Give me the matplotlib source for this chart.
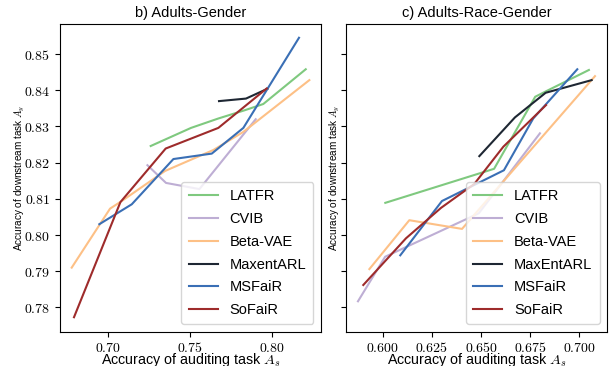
import matplotlib
matplotlib.use("Agg")
import matplotlib.pyplot as plt
from matplotlib.ticker import FuncFormatter

plt.rcParams['mathtext.fontset'] = 'cm'
plt.rcParams['font.family'] = ['Liberation Sans', 'DejaVu Sans']

# b) Adults-Gender
g_latfr_x = [0.7261, 0.7506, 0.7672, 0.7834, 0.7945, 0.8203]
g_latfr_y = [0.8246, 0.8296, 0.8322, 0.8345, 0.8362, 0.8458]
g_cvib_x = [0.7241, 0.7354, 0.7557, 0.7899]
g_cvib_y = [0.8193, 0.8144, 0.8127, 0.8320]
g_beta_x = [0.6781, 0.7014, 0.7085, 0.7348, 0.7642, 0.7824, 0.8225]
g_beta_y = [0.7910, 0.8073, 0.8094, 0.8177, 0.8235, 0.8285, 0.8428]
g_maxent_x = [0.7676, 0.7840, 0.7970]
g_maxent_y = [0.8370, 0.8377, 0.8404]
g_msfair_x = [0.6949, 0.7146, 0.7399, 0.7632, 0.7824, 0.8162]
g_msfair_y = [0.8030, 0.8085, 0.8210, 0.8225, 0.8296, 0.8545]
g_sofair_x = [0.6795, 0.7077, 0.7352, 0.7672, 0.7966]
g_sofair_y = [0.7773, 0.8091, 0.8239, 0.8296, 0.8405]

# c) Adults-Race-Gender
r_latfr_x = [0.6013, 0.6566, 0.6775, 0.6833, 0.7048]
r_latfr_y = [0.8089, 0.8183, 0.8382, 0.8398, 0.8456]
r_cvib_x = [0.5874, 0.6012, 0.6488, 0.6799]
r_cvib_y = [0.7817, 0.7940, 0.8060, 0.8281]
r_beta_x = [0.5932, 0.6135, 0.6403, 0.7079]
r_beta_y = [0.7906, 0.8041, 0.8017, 0.8439]
r_maxent_x = [0.6491, 0.6672, 0.6828, 0.7062]
r_maxent_y = [0.8218, 0.8325, 0.8393, 0.8428]
r_msfair_x = [0.6089, 0.6301, 0.6616, 0.6765, 0.6989]
r_msfair_y = [0.7944, 0.8094, 0.8179, 0.8322, 0.8458]
r_sofair_x = [0.5901, 0.6118, 0.6296, 0.6465, 0.6613, 0.6830]
r_sofair_y = [0.7862, 0.7991, 0.8075, 0.8141, 0.8244, 0.8359]

colors = ['#7fc97f', '#beaed4', '#fdc086', '#1e2733', '#3a6fb5', '#9e2b2b']

fig = plt.figure(figsize=(6.13, 3.66), dpi=100)
ax1 = fig.add_axes([0.0979, 0.0937, 0.4253, 0.8407])
ax2 = fig.add_axes([0.5644, 0.0937, 0.4258, 0.8407], sharey=ax1)

left = [(g_latfr_x, g_latfr_y, 'LATFR'), (g_cvib_x, g_cvib_y, 'CVIB'),
        (g_beta_x, g_beta_y, 'Beta-VAE'), (g_maxent_x, g_maxent_y, 'MaxentARL'),
        (g_msfair_x, g_msfair_y, 'MSFaiR'), (g_sofair_x, g_sofair_y, 'SoFaiR')]
right = [(r_latfr_x, r_latfr_y, 'LATFR'), (r_cvib_x, r_cvib_y, 'CVIB'),
         (r_beta_x, r_beta_y, 'Beta-VAE'), (r_maxent_x, r_maxent_y, 'MaxEntARL'),
         (r_msfair_x, r_msfair_y, 'MSFaiR'), (r_sofair_x, r_sofair_y, 'SoFaiR')]

for (x, y, name), c in zip(left, colors):
    ax1.plot(x, y, color=c, lw=1.5, label=name)
for (x, y, name), c in zip(right, colors):
    ax2.plot(x, y, color=c, lw=1.5, label=name)

ax1.set_xlim(0.671, 0.8294)
ax2.set_xlim(0.5813, 0.714)
ax1.set_ylim(0.7733, 0.8583)
ax1.set_xticks([0.70, 0.75, 0.80])
ax2.set_xticks([0.600, 0.625, 0.650, 0.675, 0.700])
ax1.set_yticks([0.78, 0.79, 0.80, 0.81, 0.82, 0.83, 0.84, 0.85])

ax1.xaxis.set_major_formatter(FuncFormatter(lambda v, p: '$%.2f$' % v))
ax2.xaxis.set_major_formatter(FuncFormatter(lambda v, p: '$%.3f$' % v))
ax1.yaxis.set_major_formatter(FuncFormatter(lambda v, p: '$%.2f$' % v))

for ax, title in [(ax1, 'b) Adults-Gender'), (ax2, 'c) Adults-Race-Gender')]:
    ax.set_title(title, fontsize=10.5, pad=5)
    ax.set_xlabel('Accuracy of auditing task $A_s$', fontsize=10.3, labelpad=-2.5)
    ax.set_ylabel('Accuracy of downstream task $A_y$', fontsize=7.2)
    ax.tick_params(labelsize=10, length=3.5)
    ax.tick_params(axis='x', pad=3)
    ax.legend(loc='lower right', fontsize=10.5, handlelength=2.0,
              borderpad=0.5, labelspacing=0.6, framealpha=0.8)

ax2.tick_params(labelleft=False)
ax1.yaxis.set_label_coords(-0.127, 0.5)
ax2.yaxis.set_label_coords(-0.014, 0.5)

fig.savefig('out.png', dpi=100)
